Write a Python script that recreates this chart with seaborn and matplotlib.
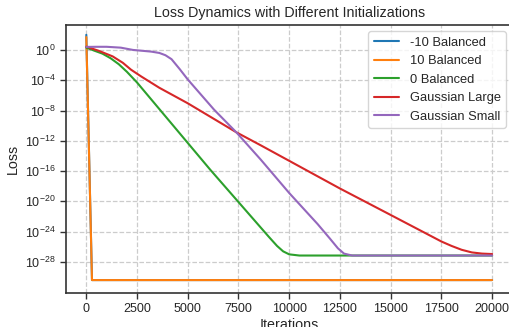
import matplotlib
matplotlib.use("Agg")
import matplotlib.pyplot as plt
import seaborn as sns
import pandas as pd

# ---- data ----
series_names = ["-10 Balanced", "10 Balanced", "0 Balanced", "Gaussian Large", "Gaussian Small"]

neg10_iter = [0, 280, 20000]
neg10_loss = [1e2, 4e-31, 4e-31]

pos10_iter = [0, 280, 20000]
pos10_loss = [5e1, 4e-31, 4e-31]

zero_iter = [0, 400, 800, 1200, 1600, 2000, 2500, 6100, 9000, 9400, 9700, 10000, 10500, 20000]
zero_loss = [2.0, 0.79, 0.32, 0.079, 1.3e-2, 1.3e-3, 5e-5, 1.6e-16, 2e-25, 1.3e-26, 2.5e-27, 1e-27, 7e-28, 7e-28]

glarge_iter = [0, 600, 1300, 1800, 2200, 2700, 3600, 5000, 7400, 8600, 12500, 15000, 17500, 18000, 18500, 19000, 19500, 20000]
glarge_loss = [2.7, 0.79, 0.14, 2e-2, 2.5e-3, 3.2e-4, 1e-5, 9e-8, 1.3e-11, 2.5e-13, 5e-19, 1.6e-22, 5e-26, 1.3e-26, 4e-27, 1.8e-27, 1.26e-27, 1.1e-27]

gsmall_iter = [0, 500, 1000, 1700, 2300, 3200, 3600, 3900, 4200, 4600, 5000, 6300, 7400, 8600, 10000, 11400, 12000, 12400, 12700, 13100, 20000]
gsmall_loss = [2.5, 2.6, 2.6, 2.0, 1.0, 0.6, 0.4, 0.2, 6e-2, 3e-3, 1.26e-4, 1.26e-8, 1.26e-11, 3.2e-15, 1.26e-19, 1e-23, 1.26e-25, 6.3e-27, 1.26e-27, 7e-28, 7e-28]

x_ticks = [0, 2500, 5000, 7500, 10000, 12500, 15000, 17500, 20000]
y_ticks = [1e0, 1e-4, 1e-8, 1e-12, 1e-16, 1e-20, 1e-24, 1e-28]

# ---- build long-form table ----
frames = []
for name, it, ls in zip(series_names,
                        [neg10_iter, pos10_iter, zero_iter, glarge_iter, gsmall_iter],
                        [neg10_loss, pos10_loss, zero_loss, glarge_loss, gsmall_loss]):
    frames.append(pd.DataFrame({"Iterations": it, "Loss": ls, "Init": name}))
df = pd.concat(frames, ignore_index=True)

sns.set_theme(style="ticks")
plt.rcParams["font.family"] = ["Liberation Sans", "DejaVu Sans"]
plt.rcParams["mathtext.fontset"] = "custom"
plt.rcParams["mathtext.rm"] = "Liberation Sans"
plt.rcParams["mathtext.it"] = "Liberation Sans:italic"
plt.rcParams["mathtext.bf"] = "Liberation Sans:bold"

fig = plt.figure(figsize=(5.09, 3.27), dpi=100)
ax = fig.add_axes([0.1297, 0.105, 0.877, 0.8187])

palette = ["#1f77b4", "#ff7f0e", "#2ca02c", "#d62728", "#9467bd"]
sns.lineplot(data=df, x="Iterations", y="Loss", hue="Init", hue_order=series_names,
             palette=palette, sort=False, estimator=None, linewidth=1.5, ax=ax)

ax.set_yscale("log")
ax.set_xlim(-1000, 21000)
ax.set_ylim(10 ** -32.06, 10 ** 3.3)
ax.set_xticks(x_ticks)
ax.set_yticks(y_ticks)
ax.yaxis.set_minor_locator(matplotlib.ticker.NullLocator())
ax.tick_params(axis="both", labelsize=9, length=4, width=1, color="#333333", labelcolor="#262626")

ax.grid(True, linestyle="--", color="#cccccc", linewidth=0.9)
for s in ax.spines.values():
    s.set_color("#333333")
    s.set_linewidth(1.2)

ax.set_title("Loss Dynamics with Different Initializations", fontsize=10.3, color="#262626")
ax.set_xlabel("Iterations", fontsize=10.3, color="#262626", labelpad=2)
ax.set_ylabel("Loss", fontsize=10.3, color="#262626")

leg = ax.legend(loc="upper right", fontsize=9.3, frameon=True, fancybox=True, framealpha=0.8,
                edgecolor="#cccccc", title=None)

fig.savefig("out.png", dpi=100)
